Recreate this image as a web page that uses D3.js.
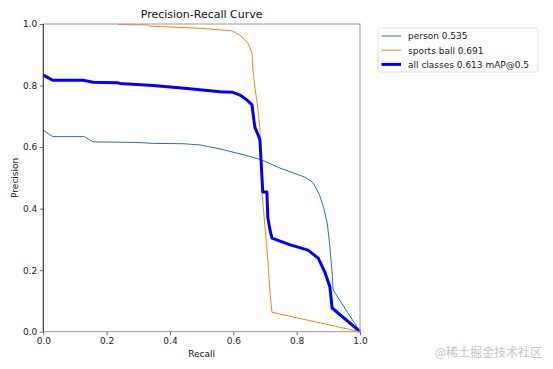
<!DOCTYPE html>
<html>
<head>
<meta charset="utf-8">
<script src="https://cdn.jsdelivr.net/npm/d3@7"></script>
<style>
  body { margin: 0; background: #fff; }
  svg { display: block; font-family: "DejaVu Sans", sans-serif; }
</style>
</head>
<body>
<svg></svg>
<script>
let width = 553, height = 369;

// curves: recall, precision
let personRecall = [0, 0.03, 0.13, 0.157, 0.296, 0.347, 0.441, 0.495, 0.558, 0.637, 0.69, 0.747, 0.789, 0.825, 0.852, 0.872, 0.886, 0.897, 0.905, 0.912, 0.915, 1.0];
let personPrec = [0.655, 0.634, 0.634, 0.617, 0.615, 0.612, 0.611, 0.607, 0.594, 0.574, 0.558, 0.532, 0.516, 0.503, 0.484, 0.445, 0.400, 0.350, 0.275, 0.191, 0.136, 0.0];

let ballRecall = [0.236, 0.331, 0.337, 0.495, 0.595, 0.621, 0.646, 0.659, 0.662, 0.668, 0.674, 0.678, 0.684, 0.69, 0.70, 0.709, 0.716, 0.722, 1.0];
let ballPrec = [0.998, 0.997, 0.993, 0.986, 0.978, 0.964, 0.938, 0.906, 0.85, 0.795, 0.753, 0.72, 0.66, 0.46, 0.34, 0.233, 0.125, 0.063, 0.0];

let allRecall = [0, 0.03, 0.126, 0.157, 0.233, 0.242, 0.347, 0.454, 0.558, 0.599, 0.621, 0.643, 0.659, 0.662, 0.668, 0.678, 0.684, 0.693, 0.706, 0.709, 0.716, 0.722, 0.78, 0.836, 0.868, 0.89, 0.905, 0.912, 1.0];
let allPrec = [0.834, 0.817, 0.817, 0.811, 0.809, 0.807, 0.8, 0.79, 0.78, 0.778, 0.769, 0.753, 0.737, 0.711, 0.665, 0.64, 0.623, 0.454, 0.454, 0.37, 0.33, 0.304, 0.282, 0.265, 0.239, 0.191, 0.145, 0.077, 0.0];

let legendLabels = ["person 0.535", "sports ball 0.691", "all classes 0.613 mAP@0.5"];
let ticks = [0, 0.2, 0.4, 0.6, 0.8, 1.0];

let svg = d3.select("svg")
    .attr("width", width)
    .attr("height", height);

let x = d3.scaleLinear().domain([0, 1]).range([43.3, 360]);
let y = d3.scaleLinear().domain([0, 1]).range([331.7, 24]);

let line = d3.line().x(d => x(d[0])).y(d => y(d[1]));

let series = [
    { r: personRecall, p: personPrec, color: "#1f77b4", w: 1 },
    { r: ballRecall, p: ballPrec, color: "#ff7f0e", w: 1 },
    { r: allRecall, p: allPrec, color: "#0000ff", w: 3 }
];

svg.append("g")
    .selectAll("path")
    .data(series)
    .enter()
    .append("path")
    .attr("d", s => line(s.r.map((v, i) => [v, s.p[i]])))
    .attr("fill", "none")
    .attr("stroke", s => s.color)
    .attr("stroke-width", s => s.w)
    .attr("stroke-linejoin", "round");

// axes
let xAxis = svg.append("g")
    .attr("transform", "translate(0," + y(0) + ")")
    .call(d3.axisBottom(x).tickValues(ticks).tickFormat(d3.format(".1f")).tickSize(3.5).tickPadding(2.5));
let yAxis = svg.append("g")
    .attr("transform", "translate(" + x(0) + ",0)")
    .call(d3.axisLeft(y).tickValues(ticks).tickFormat(d3.format(".1f")).tickSize(3.5).tickPadding(2.5));

[xAxis, yAxis].forEach(a => {
    a.select(".domain").remove();
    a.selectAll("text").attr("font-size", 9).attr("fill", "#222").attr("font-family", "DejaVu Sans");
    a.selectAll("line").attr("stroke", "#444").attr("stroke-width", 0.8);
});

// spines on top of curves
svg.append("rect")
    .attr("x", x(0)).attr("y", y(1))
    .attr("width", x(1) - x(0)).attr("height", y(0) - y(1))
    .attr("fill", "none")
    .attr("stroke", "#999")
    .attr("stroke-width", 1);
svg.append("line")
    .attr("x1", x(0)).attr("x2", x(0)).attr("y1", y(1)).attr("y2", y(0))
    .attr("stroke", "#333").attr("stroke-width", 1);

// titles
svg.append("text")
    .attr("x", (x(0) + x(1)) / 2).attr("y", 18)
    .attr("text-anchor", "middle").attr("font-size", 11).attr("fill", "#111")
    .text("Precision-Recall Curve");
svg.append("text")
    .attr("x", (x(0) + x(1)) / 2).attr("y", 357)
    .attr("text-anchor", "middle").attr("font-size", 9).attr("fill", "#111")
    .text("Recall");
svg.append("text")
    .attr("transform", "translate(18," + ((y(0) + y(1)) / 2) + ") rotate(-90)")
    .attr("text-anchor", "middle").attr("font-size", 9).attr("fill", "#111")
    .text("Precision");

// legend
let legend = svg.append("g").attr("transform", "translate(378,28)");
legend.append("rect")
    .attr("width", 160).attr("height", 44)
    .attr("rx", 2.5)
    .attr("fill", "#fff").attr("stroke", "#d8d8d8").attr("stroke-width", 0.8);
let items = legend.selectAll("g.item")
    .data(series)
    .enter()
    .append("g")
    .attr("transform", (d, i) => "translate(0," + (8 + i * 14.2) + ")");
items.append("line")
    .attr("x1", 3.5).attr("x2", 23)
    .attr("stroke", d => d.color).attr("stroke-width", d => d.w);
items.append("text")
    .attr("x", 30).attr("y", 3.3)
    .attr("font-size", 9).attr("fill", "#222")
    .text((d, i) => legendLabels[i]);

// watermark
svg.append("text")
    .attr("x", 542).attr("y", 357)
    .attr("text-anchor", "end")
    .attr("font-size", 12)
    .attr("font-family", "Noto Sans CJK SC")
    .attr("fill", "#c4c4c4")
    .text("@稀土掘金技术社区");
</script>
</body>
</html>
